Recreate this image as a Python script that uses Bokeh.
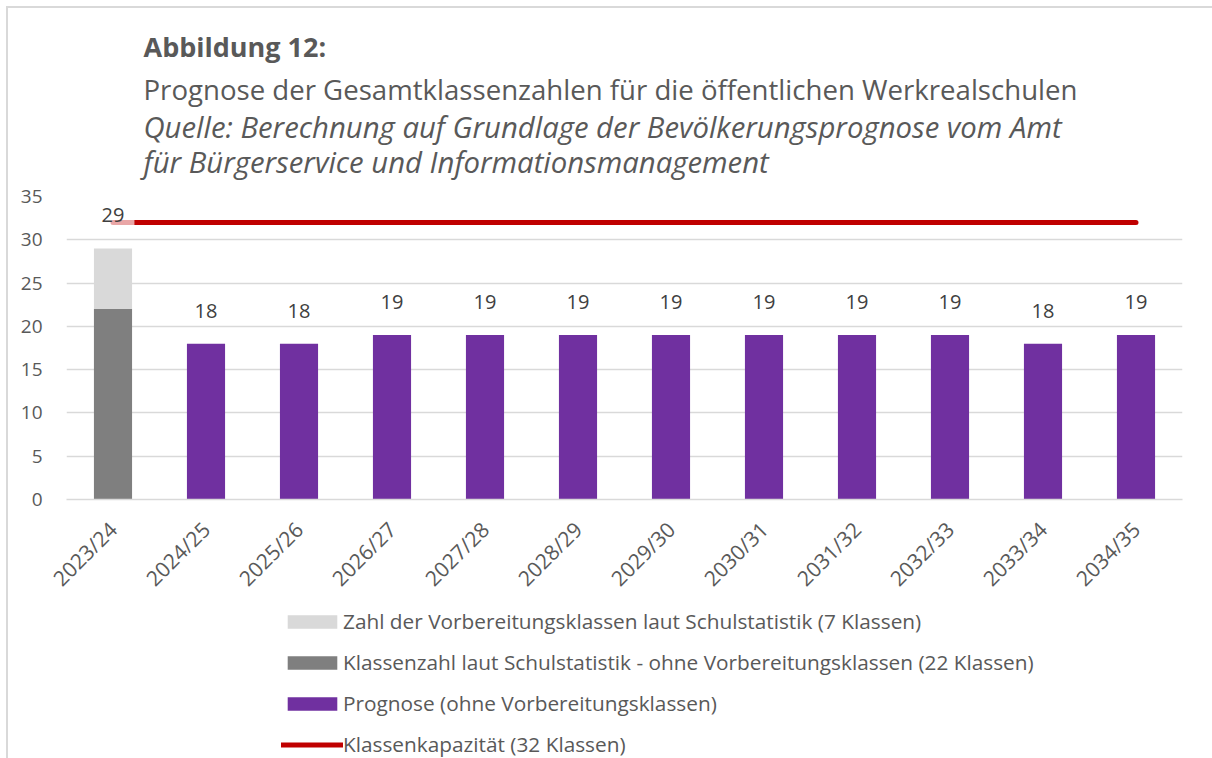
import math
from bokeh.plotting import figure
from bokeh.layouts import column
from bokeh.models import (ColumnDataSource, FactorRange, Range1d, FixedTicker,
                          Legend, LegendItem, Label)
from bokeh.core.properties import value
from bokeh.embed import file_html
from bokeh.resources import INLINE

# ---------------- data ----------------
schuljahre = ["2023/24", "2024/25", "2025/26", "2026/27", "2027/28", "2028/29",
              "2029/30", "2030/31", "2031/32", "2032/33", "2033/34", "2034/35"]

statistik_jahr = ["2023/24"]
statistik_ohne_vk = [22]      # Klassenzahl laut Schulstatistik ohne Vorbereitungsklassen
statistik_vk = [7]            # Vorbereitungsklassen

prognose_jahre = ["2024/25", "2025/26", "2026/27", "2027/28", "2028/29", "2029/30",
                  "2030/31", "2031/32", "2032/33", "2033/34", "2034/35"]
prognose_werte = [18, 18, 19, 19, 19, 19, 19, 19, 19, 18, 19]

kapazitaet = [32, 32, 32, 32, 32, 32, 32, 32, 32, 32, 32, 32]

y_ticks = [0, 5, 10, 15, 20, 25, 30, 35]

legend_labels = [
    "Zahl der Vorbereitungsklassen laut Schulstatistik (7 Klassen)",
    "Klassenzahl laut Schulstatistik - ohne Vorbereitungsklassen (22 Klassen)",
    "Prognose (ohne Vorbereitungsklassen)",
    "Klassenkapazität (32 Klassen)",
]

titel = "Abbildung 12:"
untertitel = "Prognose der Gesamtklassenzahlen für die öffentlichen Werkrealschulen"
quelle_1 = "Quelle: Berechnung auf Grundlage der Bevölkerungsprognose vom Amt"
quelle_2 = "für Bürgerservice und Informationsmanagement"

# ---------------- styling ----------------
FONT = "Open Sans"
TXT = "#595959"
GRID = "#D9D9D9"
C_VK = "#D9D9D9"
C_IST = "#7F7F7F"
C_PROG = "#7030A0"
C_KAP = "#C00000"

# sources shared by chart and legend strip
src_ist = ColumnDataSource(dict(x=statistik_jahr, top=statistik_ohne_vk))
src_vk = ColumnDataSource(dict(x=statistik_jahr,
                               bottom=statistik_ohne_vk,
                               top=[a + b for a, b in zip(statistik_ohne_vk, statistik_vk)]))
src_prog = ColumnDataSource(dict(x=prognose_jahre, top=prognose_werte))
src_kap = ColumnDataSource(dict(x=schuljahre, y=kapazitaet))

# ---------------- title strip ----------------
pt = figure(width=1204, height=174, output_backend="svg", toolbar_location=None,
            x_range=Range1d(0, 1), y_range=Range1d(0, 1),
            x_axis_type=None, y_axis_type=None,
            min_border_left=0, min_border_right=0, min_border_top=0,
            min_border_bottom=0)
pt.outline_line_color = None
pt.grid.grid_line_color = None
pt.border_fill_color = "white"

for txt, yy, style, size in [(titel, 136, "bold", "27px"),
                             (untertitel, 94, "normal", "27.6px"),
                             (quelle_1, 56, "italic", "29.3px"),
                             (quelle_2, 21, "italic", "29.3px")]:
    pt.add_layout(Label(x=77, y=yy, x_units="screen", y_units="screen", text=txt,
                        text_baseline="alphabetic", text_font=FONT,
                        text_font_size=size, text_font_style=style,
                        text_color=TXT))

# ---------------- chart ----------------
p = figure(width=1204, height=424, output_backend="svg", toolbar_location=None,
           x_range=FactorRange(*schuljahre), y_range=Range1d(0, 35),
           min_border_left=58, min_border_right=30, min_border_top=14,
           min_border_bottom=107)
p.outline_line_color = None
p.background_fill_color = "white"
p.border_fill_color = "white"

p.vbar(x="x", top="top", bottom=0, width=0.41, source=src_ist,
       fill_color=C_IST, line_color=None)
p.vbar(x="x", top="top", bottom="bottom", width=0.41, source=src_vk,
       fill_color=C_VK, line_color=None)
p.vbar(x="x", top="top", bottom=0, width=0.41, source=src_prog,
       fill_color=C_PROG, line_color=None)
p.line(x="x", y="y", source=src_kap, line_color=C_KAP, line_width=5,
       line_cap="round")

# data labels
lab_x = statistik_jahr + prognose_jahre
lab_y = [a + b for a, b in zip(statistik_ohne_vk, statistik_vk)] + prognose_werte
src_lab = ColumnDataSource(dict(x=lab_x, y=lab_y, t=[str(v) for v in lab_y]))
p.text(x="x", y="y", text="t", source=src_lab, text_align="center",
       text_baseline="middle", y_offset=-33, text_font=value(FONT),
       text_font_size="20px", text_color="#404040",
       background_fill_color="white", background_fill_alpha=0.65,
       padding=(10, 5))

# axes
p.yaxis.ticker = FixedTicker(ticks=y_ticks)
p.yaxis.axis_line_color = None
p.yaxis.major_tick_line_color = None
p.yaxis.minor_tick_line_color = None
p.yaxis.major_tick_in = 0
p.yaxis.major_tick_out = 0
p.yaxis.major_label_standoff = 24
p.yaxis.major_label_text_font = FONT
p.yaxis.major_label_text_font_size = "19px"
p.yaxis.major_label_text_color = TXT

p.xaxis.axis_line_color = GRID
p.xaxis.axis_line_width = 1.5
p.xaxis.major_tick_line_color = None
p.xaxis.major_tick_in = 0
p.xaxis.major_tick_out = 0
p.xaxis.major_label_orientation = math.pi / 4
p.xaxis.major_label_standoff = 26
p.xaxis.major_label_text_font = FONT
p.xaxis.major_label_text_font_size = "21px"
p.xaxis.major_label_text_color = TXT

p.xgrid.grid_line_color = None
p.ygrid.grid_line_color = GRID
p.ygrid.grid_line_width = 1.5

# ---------------- legend strip ----------------
p2 = figure(width=1204, height=152, output_backend="svg", toolbar_location=None,
            x_range=FactorRange(*schuljahre), y_range=Range1d(100, 101),
            x_axis_type=None, y_axis_type=None,
            min_border_left=0, min_border_right=0, min_border_top=0,
            min_border_bottom=0)
p2.outline_line_color = None
p2.grid.grid_line_color = None
p2.border_fill_color = "white"

g_vk = p2.vbar(x="x", top="top", bottom="bottom", width=0.41, source=src_vk,
               fill_color=C_VK, line_color=None)
g_ist = p2.vbar(x="x", top="top", bottom=0, width=0.41, source=src_ist,
                fill_color=C_IST, line_color=None)
g_prog = p2.vbar(x="x", top="top", bottom=0, width=0.41, source=src_prog,
                 fill_color=C_PROG, line_color=None)
g_kap = p2.line(x="x", y="y", source=src_kap, line_color=C_KAP, line_width=5,
                line_cap="round")

legend = Legend(items=[
    LegendItem(label=legend_labels[0], renderers=[g_vk]),
    LegendItem(label=legend_labels[1], renderers=[g_ist]),
    LegendItem(label=legend_labels[2], renderers=[g_prog]),
    LegendItem(label=legend_labels[3], renderers=[g_kap]),
], location=(215, 0))
legend.glyph_width = 62
legend.glyph_height = 17
legend.label_height = 20
legend.label_standoff = 0
legend.spacing = 13
legend.padding = 0
legend.margin = 0
legend.border_line_color = None
legend.background_fill_alpha = 0
legend.label_text_font = FONT
legend.label_text_font_size = "20.8px"
legend.label_text_color = TXT
p2.add_layout(legend)

layout = column(pt, p, p2, spacing=0)
layout.styles = {"margin-left": "6px", "margin-top": "6px",
                 "border-left": "2px solid #D9D9D9",
                 "border-top": "2px solid #D9D9D9"}

open("out.html", "w").write(file_html(layout, INLINE))
